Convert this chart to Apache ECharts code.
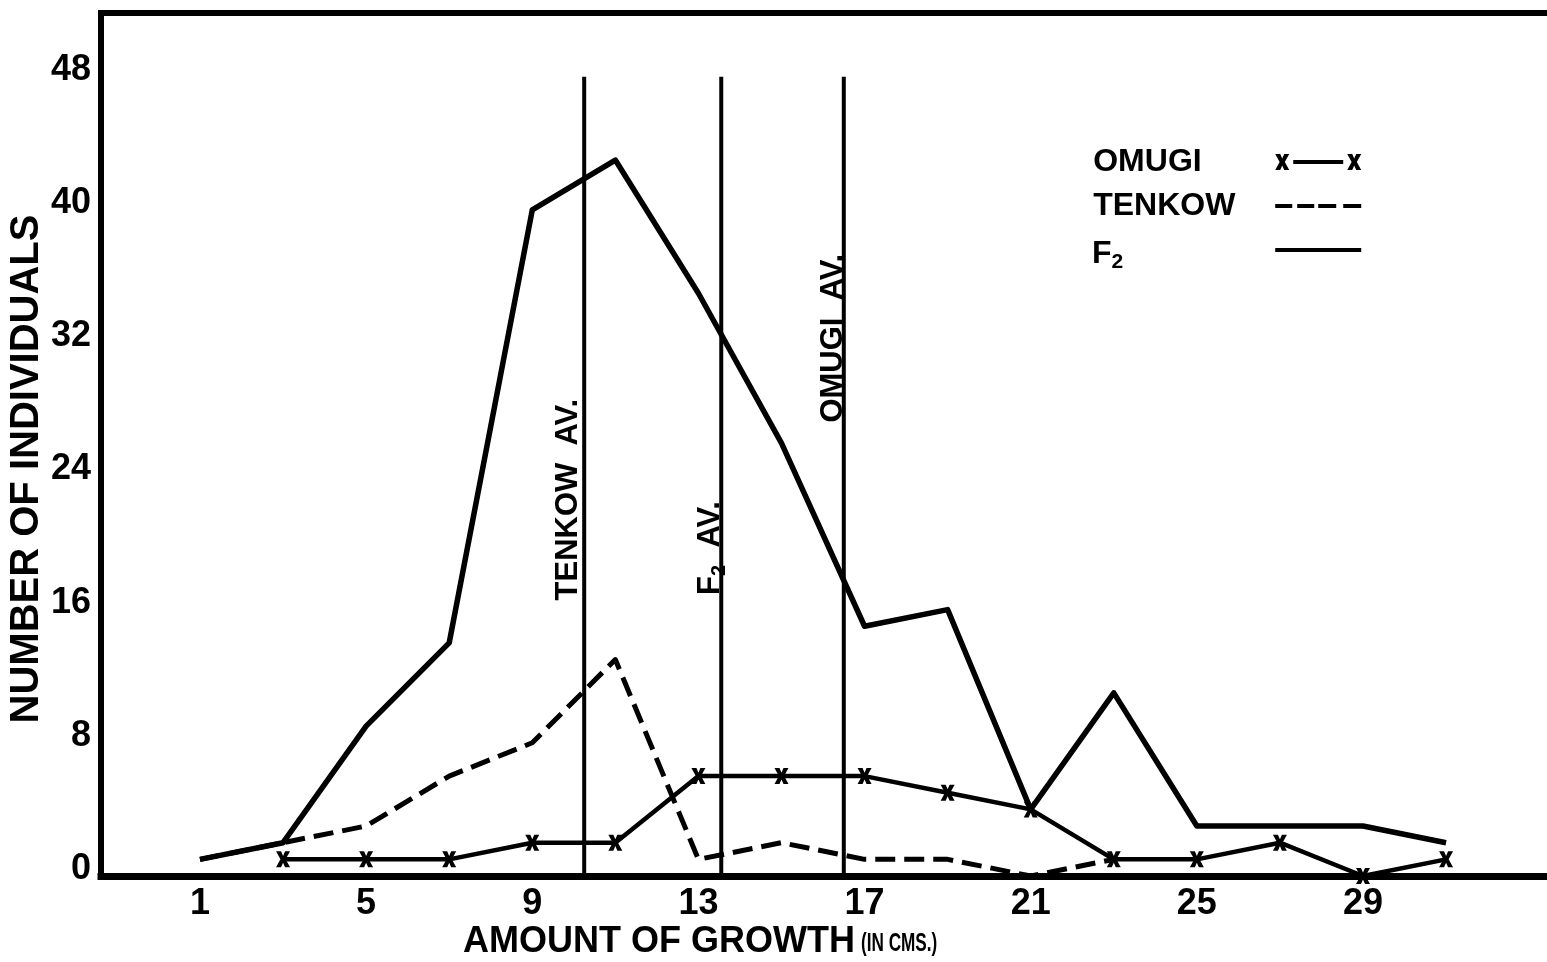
<!DOCTYPE html>
<html>
<head>
<meta charset="utf-8">
<script src="https://cdn.jsdelivr.net/npm/echarts@6/dist/echarts.min.js"></script>
<style>
  html, body { margin: 0; padding: 0; background: #fff; }
  #chart { width: 1547px; height: 962px; }
</style>
</head>
<body>
<div id="chart"></div>
<script>
// Growth classes (cm) and number of individuals in each class
const growth = [1, 3, 5, 7, 9, 11, 13, 15, 17, 19, 21, 23, 25, 27, 29, 31];
const omugi  = [null, 1, 1, 1, 2, 2, 6, 6, 6, 5, 4, 1, 1, 2, 0, 1];
const tenkow = [1, 2, 3, 6, 8, 13, 1, 2, 1, 1, 0, 1, null, null, null, null];
const f2     = [1, 2, 9, 14, 40, 43, 35, 26, 15, 16, 4, 11, 3, 3, 3, 2];

// Mean growth of each population (vertical reference lines)
const avgNames  = ['TENKOW', 'F2', 'OMUGI'];
const avgValues = [10.25, 13.55, 16.5];
const avgLineTop = 48;

// Axis ticks
const xTicks = [1, 5, 9, 13, 17, 21, 25, 29];
const yTicks = [0, 8, 16, 24, 32, 40, 48];

const FONT = 'Liberation Sans';
const INK = '#000';

function pairs(values) {
  const out = [];
  values.forEach((v, i) => { if (v !== null) out.push([growth[i], v]); });
  return out;
}

// bold "x" marker
const xMark = 'path://M0,0 L5,0 L7,4.6 L9,0 L14,0 L9.6,8 L14,16 L9,16 L7,11.4 L5,16 L0,16 L4.4,8 Z';
// legend samples, drawn in an 86 x 16 box
const omugiIcon = 'path://M0,0 L5,0 L7,4.6 L9,0 L14,0 L9.6,8 L14,16 L9,16 L7,11.4 L5,16 L0,16 L4.4,8 Z ' +
  'M72,0 L77,0 L79,4.6 L81,0 L86,0 L81.6,8 L86,16 L81,16 L79,11.4 L77,16 L72,16 L76.4,8 Z ' +
  'M18,6 L68,6 L68,10 L18,10 Z';
const dashIcon = 'path://M0,0 M86,16 M0,6 L17,6 L17,10 L0,10 Z M22,6 L39,6 L39,10 L22,10 Z ' +
  'M43,6 L61,6 L61,10 L43,10 Z M68,6 L86,6 L86,10 L68,10 Z';
const solidIcon = 'path://M0,0 M86,16 M0,6 L86,6 L86,10 L0,10 Z';

const chart = echarts.init(document.getElementById('chart'), null, { renderer: 'canvas' });

const xMin = -1.383, xMax = 33.43;
const yMin = 0, yMax = 51.83;

const avgSeries = avgValues.map((v, i) => ({
  name: 'avg-' + avgNames[i],
  type: 'line',
  data: [[v, 0], [v, avgLineTop]],
  symbol: 'none',
  silent: true,
  lineStyle: { color: INK, width: 4 },
  z: 1
}));

const bold = (size, extra) => Object.assign({
  fontFamily: FONT, fontWeight: 'bold', fontSize: size, color: INK
}, extra || {});

// subscript "2" in rich text: both tokens share one line box
const subRich = size => ({
  t: bold(size, { width: 177, align: 'left', lineHeight: 32 }),
  m: bold(size, { lineHeight: 24, padding: [0, 0, 10, 0], verticalAlign: 'top' }),
  s: bold(Math.round(size * 0.65), { lineHeight: 20, padding: [14, 0, 0, 0], verticalAlign: 'top' }),
  p: bold(size, { width: 147, lineHeight: 24 })
});

chart.setOption({
  animation: false,
  backgroundColor: '#fff',
  grid: { left: 101, right: 0, top: 13, bottom: 86, containLabel: false },
  xAxis: [{
    type: 'value', min: xMin, max: xMax,
    axisLine: { onZero: false, lineStyle: { color: INK, width: 7, cap: 'square' } },
    axisTick: { show: false },
    splitLine: { show: false },
    axisLabel: Object.assign(bold(36), { margin: 10, customValues: xTicks })
  }, {
    type: 'value', min: xMin, max: xMax, position: 'top',
    axisLine: { onZero: false, lineStyle: { color: INK, width: 6, cap: 'square' } },
    axisTick: { show: false }, axisLabel: { show: false }, splitLine: { show: false }
  }],
  yAxis: {
    type: 'value', min: yMin, max: yMax,
    axisLine: { show: true, onZero: false, lineStyle: { color: INK, width: 6, cap: 'square' } },
    axisTick: { show: false },
    splitLine: { show: false },
    axisLabel: Object.assign(bold(36), {
      margin: 10, customValues: yTicks, verticalAlign: 'bottom', lineHeight: 14
    })
  },
  legend: {
    data: [
      { name: 'OMUGI', icon: omugiIcon },
      { name: 'TENKOW', icon: dashIcon },
      { name: 'F2', icon: solidIcon }
    ],
    orient: 'vertical', left: 1087, top: 141,
    align: 'right', itemWidth: 86, itemHeight: 16, itemGap: 12,
    selectedMode: false,
    itemStyle: { color: INK, borderWidth: 0 },
    formatter: name => name === 'F2' ? '{m|F}{s|2}{p| }' : '{t|' + name + '}',
    textStyle: bold(32, { lineHeight: 32, rich: subRich(32) })
  },
  series: [
    ...avgSeries,
    {
      name: 'F2', type: 'line', data: pairs(f2), symbol: 'none',
      lineStyle: { color: INK, width: 5.5, join: 'round' },
      itemStyle: { color: INK }, z: 3
    },
    {
      name: 'TENKOW', type: 'line', data: pairs(tenkow), symbol: 'none',
      lineStyle: { color: INK, width: 5, type: [20, 9], join: 'round' },
      itemStyle: { color: INK }, z: 3
    },
    {
      name: 'OMUGI', type: 'line', data: pairs(omugi),
      symbol: xMark, symbolSize: [14, 16], showAllSymbol: true,
      lineStyle: { color: INK, width: 4.5 },
      itemStyle: { color: INK, borderWidth: 0 }, z: 4
    }
  ]
});

// Axis titles and the rotated captions beside the mean lines
const titles = [
  {
    id: 'xTitle', type: 'text', left: 463, top: 922,
    style: {
      text: 'AMOUNT OF GROWTH',
      fontFamily: FONT, fontWeight: 'bold', fontSize: 36, lineHeight: 40, fill: INK
    }
  },
  {
    id: 'xTitleUnit', type: 'text', x: 861, y: 944, scaleX: 0.66,
    style: {
      text: '(IN CMS.)', align: 'left', verticalAlign: 'middle',
      fontFamily: FONT, fontWeight: 'bold', fontSize: 26, fill: INK
    }
  },
  {
    id: 'yTitle', type: 'text', x: 27, y: 469, rotation: Math.PI / 2,
    style: {
      text: 'NUMBER OF INDIVIDUALS', align: 'center', verticalAlign: 'middle',
      fontFamily: FONT, fontWeight: 'bold', fontSize: 40, fill: INK
    }
  }
];

const avgCaption = {
  TENKOW: { text: '{m|TENKOW  AV.}', level: 22.6, gap: 19 },
  F2:     { text: '{m|F}{s|2}{m|  AV.}', level: 19.7, gap: 14 },
  OMUGI:  { text: '{m|OMUGI  AV.}', level: 32.3, gap: 14 }
};
const captions = avgNames.map((n, i) => {
  const c = avgCaption[n];
  const p = chart.convertToPixel({ xAxisIndex: 0, yAxisIndex: 0 }, [avgValues[i], c.level]);
  return {
    id: 'cap-' + n, type: 'text', x: p[0] - c.gap, y: p[1], rotation: Math.PI / 2, z: 10,
    style: {
      text: c.text, align: 'center', verticalAlign: 'middle',
      fontFamily: FONT, fontWeight: 'bold', fontSize: 31, fill: INK,
      rich: subRich(31)
    }
  };
});
chart.setOption({ graphic: titles.concat(captions) });
</script>
</body>
</html>
